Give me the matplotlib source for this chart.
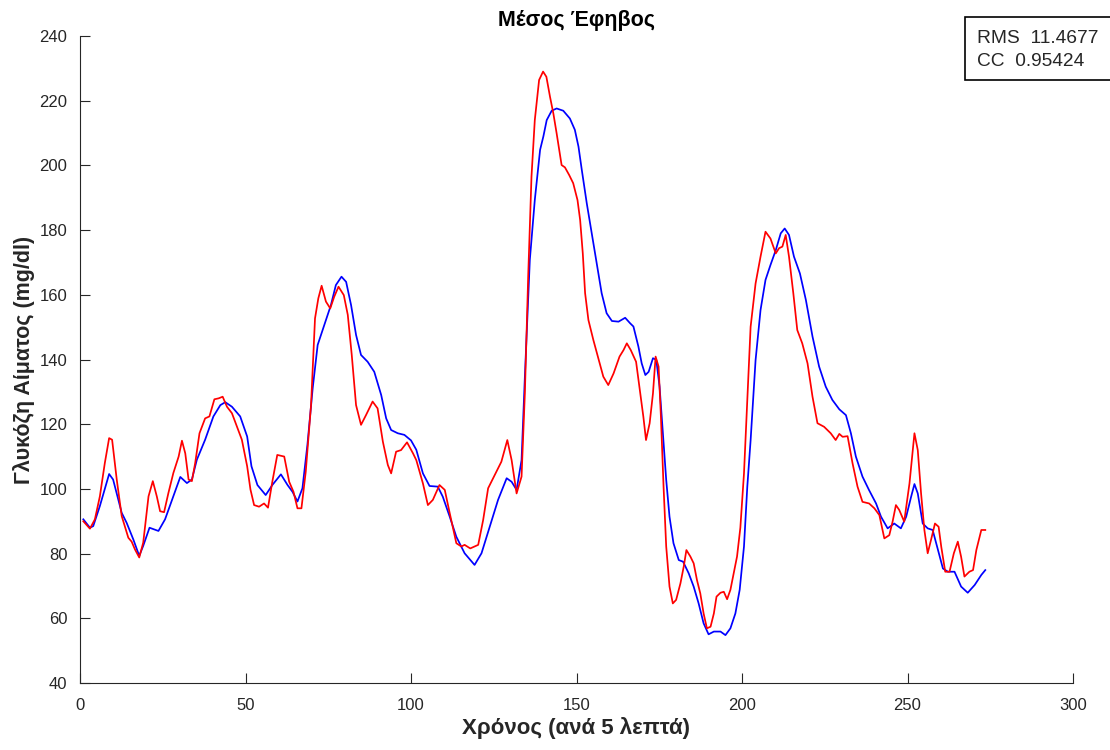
import matplotlib
matplotlib.use("Agg")
import matplotlib.pyplot as plt
from matplotlib.patches import Rectangle

# ---- data ----
time_blue = [1, 3, 4, 6, 8.8, 10, 12.6, 14.1, 16.1, 17.9, 19.1, 21, 23.7, 25.7, 28.2, 30.3, 32.3, 33.8,
             35.3, 37.8, 40.3, 42.4, 43.9, 45.9, 48.4, 50.5, 51.8, 53.6, 56.1, 58.1, 60.7, 62.7, 64.2,
             65.7, 67.2, 68.7, 70.3, 71.8, 73.8, 75.8, 77.3, 79.0, 80.4, 81.9, 83.4, 84.9, 86.9, 88.9,
             91, 92.5, 94, 96, 98, 100, 101.6, 103.6, 105.6, 108.1, 109.6, 111.7, 113.7, 116.2, 119.2,
             121.3, 123.8, 126.3, 128.9, 130.4, 131.9, 133.4, 134.4, 135.9, 137.4, 139, 140, 141, 142.5,
             144, 146, 148, 149.5, 150.6, 151.6, 153.1, 154.6, 156.1, 157.6, 159.1, 160.7, 162.7, 164.7,
             166.2, 167.2, 168.7, 169.7, 170.8, 171.8, 173.1, 174.1, 175.1, 176.1, 177.1, 178.1, 179.3,
             180.9, 182.2, 183.9, 185.4, 186.9, 188.4, 189.9, 191.5, 193.5, 195, 196.5, 198, 199.3,
             200.6, 201.6, 202.6, 204.1, 205.6, 207.1, 208.6, 210.2, 211.7, 212.9, 214.2, 215.7, 217.5,
             219.3, 221.3, 223.3, 225.3, 227.3, 229.4, 231.4, 232.9, 234.4, 236.4, 238.4, 240.5, 242,
             244, 246, 248, 249.6, 251.1, 252.1, 253.1, 254.6, 256.1, 257.6, 259.2, 260.7, 262.2, 264.2,
             266.2, 268.2, 270.3, 272.3, 273.5]
glucose_blue = [90.6, 88.0, 88.5, 94.7, 104.6, 102.9, 92.6, 89.5, 84.4, 79.3, 82.4, 88, 87, 90.6, 97.7,
                103.7, 101.8, 102.9, 109, 115.2, 122.4, 125.9, 126.8, 125.4, 122.4, 116.2, 107, 101.2,
                98.1, 101.2, 104.5, 101.2, 99.1, 96.1, 100.2, 113.6, 131.1, 144.5, 150.7, 156.8, 163.0,
                165.6, 164, 156.8, 147.6, 141.4, 139.3, 136.2, 129, 121.8, 118.2, 117.2, 116.7, 115,
                112.1, 104.8, 100.9, 100.7, 97.6, 91.4, 85.2, 80.1, 76.5, 80.1, 88.3, 96.6, 103.3, 102.2,
                99.7, 108.9, 134.7, 170.8, 189.3, 204.8, 209, 214, 216.9, 217.6, 216.9, 214.5, 211,
                205.8, 198.6, 188.3, 179, 169.7, 160.5, 154.3, 151.9, 151.7, 152.9, 151.2, 150.2, 144,
                138.8, 135.2, 136.2, 140.4, 139.9, 131.6, 117.2, 102.8, 91.4, 83.2, 78.0, 77.5, 73.9,
                69.8, 64.6, 58.45, 55.05, 55.9, 55.9, 54.8, 56.9, 61.5, 68.8, 82.2, 100.7, 115, 139.8,
                155.3, 164.6, 169.2, 173.8, 179, 180.5, 178.5, 171.8, 166.6, 158.4, 147.1, 137.8, 131.6,
                127.5, 124.6, 122.8, 117.2, 110, 103.8, 99.6, 95.5, 91.4, 87.8, 89.3, 87.8, 91.4, 97.6,
                101.5, 98.6, 89.3, 87.8, 87.3, 81.1, 75.4, 74.4, 74.4, 69.8, 67.9, 70.3, 73.4, 74.9]

time_red = [1, 3, 4.5, 6, 7.5, 8.8, 9.7, 11.1, 12.6, 14.6, 15.6, 16.6, 17.9, 19.1, 20.7, 22, 23.2, 24.2,
            25.4, 26.7, 28.2, 29.8, 30.8, 31.8, 32.8, 33.8, 34.8, 36.1, 37.8, 39.1, 40.6, 41.9, 43.1,
            44.4, 45.9, 47.4, 48.9, 50.5, 51.5, 52.6, 54.1, 55.6, 56.8, 58.1, 59.6, 61.7, 63.2, 64.5,
            65.7, 66.9, 68.2, 69.8, 71, 72, 73, 74.3, 75.6, 76.8, 78.1, 79.7, 80.9, 82.1, 83.4, 84.9,
            86.4, 88.4, 89.9, 91.5, 93, 94, 95.5, 97, 98.8, 100.6, 101.6, 103.6, 105.1, 106.6, 108.6,
            110.2, 111.7, 113.7, 115.2, 116.2, 117.9, 120.3, 121.8, 123.3, 125.3, 127.3, 129.1, 130.4,
            131.9, 133.4, 134.4, 135.4, 136.4, 137.4, 138.7, 139.9, 140.9, 142, 143, 144, 145.5, 146.5,
            147.8, 149, 150.3, 151.1, 151.9, 152.6, 153.6, 155.1, 156.6, 158.1, 159.6, 161.2, 163,
            164.2, 165.2, 166.4, 168, 169.2, 170.2, 171, 172.1, 173.1, 173.9, 174.8, 175.5, 176.3,
            177.1, 178.1, 179.1, 180.1, 181.4, 182.4, 183.2, 184.4, 185.4, 186.4, 187.4, 188.4, 189.4,
            190.5, 191.5, 192.3, 193.5, 194.5, 195.5, 196.5, 197.3, 198.5, 199.5, 200.6, 201.6, 202.6,
            204.1, 205.6, 207.1, 208.6, 210.2, 211.2, 212.2, 213.2, 214.2, 215.5, 216.7, 218.2, 219.8,
            221.3, 222.8, 224.8, 226.8, 228.3, 229.4, 230.4, 231.9, 233.4, 234.9, 236.4, 238.4, 240,
            241.5, 243, 244.5, 245.5, 246.5, 247.5, 249, 250.6, 252.1, 253.1, 254.1, 255.1, 256.1,
            257.1, 258.3, 259.4, 260.2, 261.4, 262.7, 264, 265.2, 266.2, 267.2, 268.7, 269.8, 270.8,
            272.3, 273.5]
glucose_red = [90, 87.7, 90.6, 97.7, 108, 115.7, 115.2, 102.9, 91.6, 84.9, 83.7, 81.3, 78.8, 83.4, 97.7,
               102.4, 97.7, 93.1, 92.8, 98.7, 104.9, 110, 114.9, 111, 102.9, 102.4, 108, 117.2, 121.8,
               122.4, 127.7, 128, 128.5, 125.4, 123.4, 119.3, 115.2, 107, 99.8, 95, 94.5, 95.5, 94.2,
               102.2, 110.5, 110, 102.2, 99.1, 94, 94, 105.3, 125.9, 152.7, 158.9, 162.8, 157.9, 155.8,
               159.4, 162.5, 159.9, 153.8, 141.4, 125.9, 119.8, 122.8, 127, 124.9, 114.6, 107.4, 104.8,
               111.5, 112, 114.4, 111, 108.9, 101.7, 95, 96.6, 101.2, 99.7, 92.5, 83.2, 82.2, 82.7,
               81.6, 82.7, 90.4, 100.2, 104.3, 108.4, 115.1, 108.9, 98.6, 103.8, 129.5, 165.6, 196.5,
               214, 226.4, 229, 227.4, 221.2, 216.1, 209.9, 200.1, 199.4, 197, 194.5, 189.3, 183.1,
               172.8, 160.5, 152.2, 146, 140.4, 134.7, 132.1, 135.7, 140.9, 142.9, 145, 142.9, 139.3,
               130, 122.3, 115.1, 120.3, 129.5, 140.9, 137.8, 122.3, 100.7, 82.2, 69.8, 64.6, 65.7,
               70.8, 76, 81.1, 79.1, 77, 71.8, 67.7, 61.5, 56.9, 57.4, 61.5, 66.7, 67.9, 68.2, 65.9,
               68.8, 72.9, 79.1, 88, 104.8, 127.5, 150.1, 163.5, 171.8, 179.5, 177.4, 172.8, 174.4,
               174.9, 178.5, 171.8, 160.5, 149.1, 145, 138.8, 128.5, 120.3, 119.2, 117.2, 115.1, 117,
               116.1, 116.3, 107.9, 100.7, 96, 95.5, 94, 91.9, 84.7, 85.7, 89.9, 95, 93.5, 89.9, 101.7,
               117.2, 112, 98.6, 87.3, 80.1, 84.2, 89.3, 88.3, 82.1, 74.4, 74.4, 80.1, 83.7, 79, 72.9,
               74.4, 74.9, 81.1, 87.3, 87.3]

x_ticks = [0, 50, 100, 150, 200, 250, 300]
y_ticks = [40, 60, 80, 100, 120, 140, 160, 180, 200, 220, 240]
title_text = "Μέσος Έφηβος"
xlabel_text = "Χρόνος (ανά 5 λεπτά)"
ylabel_text = "Γλυκόζη Αίματος (mg/dl)"
stats_lines = ["RMS  11.4677", "CC  0.95424"]

plt.rcParams['font.family'] = ['Liberation Sans', 'DejaVu Sans']

fig = plt.figure(figsize=(11.1, 7.5), dpi=100)
ax = fig.add_axes([80 / 1110, 1 - 683 / 750, (1073 - 80) / 1110, (683 - 36) / 750])

ax.plot(time_blue, glucose_blue, color=(0, 0, 1), lw=1.25)
ax.plot(time_red, glucose_red, color=(1, 0, 0), lw=1.25)

ax.set_xlim(0, 300)
ax.set_ylim(40, 240)
ax.set_xticks(x_ticks)
ax.set_yticks(y_ticks)
axis_col = (0.15, 0.15, 0.15)
for s in ['top', 'right']:
    ax.spines[s].set_visible(False)
for s in ['left', 'bottom']:
    ax.spines[s].set_color(axis_col)
    ax.spines[s].set_linewidth(0.8)
ax.tick_params(direction='in', length=7, width=0.8, colors=axis_col, labelsize=12)
ax.tick_params(axis='x', pad=11)
ax.tick_params(axis='y', pad=9)

ax.set_title(title_text, fontsize=15.5, fontweight='bold', color='black', pad=7)
ax.set_xlabel(xlabel_text, fontsize=16, fontweight='bold', color=axis_col, labelpad=3)
ax.set_ylabel(ylabel_text, fontsize=15.5, fontweight='bold', color=axis_col, labelpad=3.5)

# statistics box (figure coordinates), extends past the right edge as in the reference
bx0, bx1, by0, by1 = 965, 1114, 17, 80
fig.patches.append(Rectangle((bx0 / 1110, 1 - by1 / 750), (bx1 - bx0) / 1110, (by1 - by0) / 750,
                             transform=fig.transFigure, fill=True, facecolor='white',
                             edgecolor='black', lw=1.2))
fig.text(977 / 1110, 1 - 38.5 / 750, stats_lines[0], fontsize=13.8, va='center', ha='left',
         color=axis_col)
fig.text(977 / 1110, 1 - 62 / 750, stats_lines[1], fontsize=13.8, va='center', ha='left',
         color=axis_col)

fig.savefig("out.png", dpi=100)
